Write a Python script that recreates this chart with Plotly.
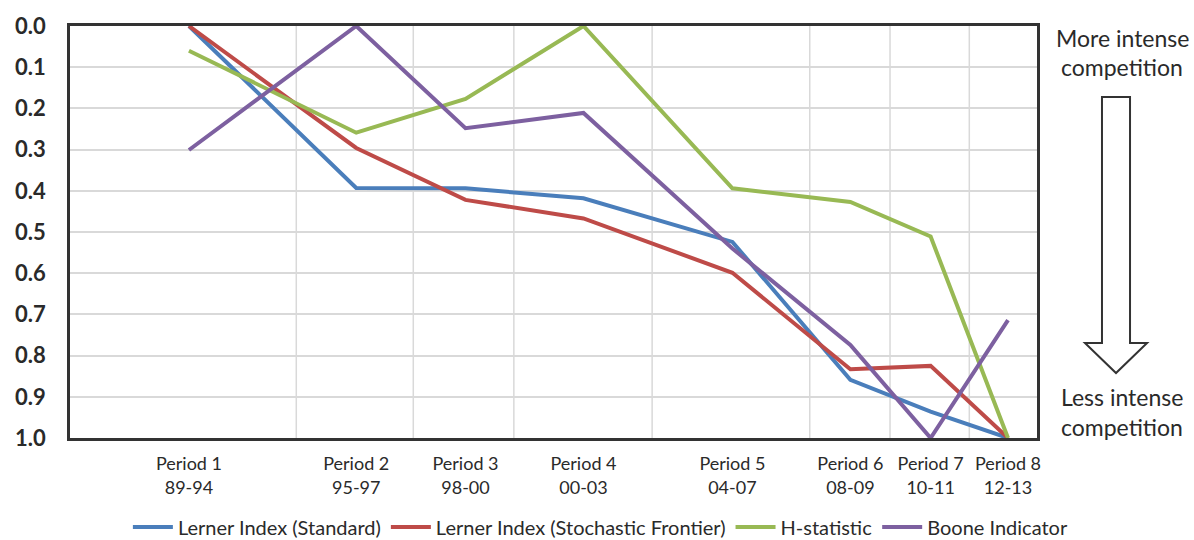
import plotly.graph_objects as go

# Period labels and their positions along the horizontal scale (0-100)
periods = ["Period 1", "Period 2", "Period 3", "Period 4",
           "Period 5", "Period 6", "Period 7", "Period 8"]
year_spans = ["89-94", "95-97", "98-00", "00-03", "04-07", "08-09", "10-11", "12-13"]
period_pos = [12.3, 29.6, 40.9, 53.1, 68.5, 80.7, 89.0, 97.0]

# Boundaries between periods (vertical gridlines)
boundary_pos = [23.4, 35.5, 45.9, 60.2, 76.5, 84.8, 93.0]

# Normalised competition measures (0 = more intense, 1 = less intense)
lerner_standard = [0.0, 0.393, 0.394, 0.418, 0.524, 0.859, 0.936, 1.0]
lerner_sfa = [0.0, 0.296, 0.422, 0.467, 0.599, 0.833, 0.825, 1.0]
h_statistic = [0.06, 0.259, 0.177, 0.0, 0.394, 0.427, 0.511, 1.0]
boone = [0.301, 0.0, 0.248, 0.211, 0.54, 0.774, 1.0, 0.714]

series = [
    ("Lerner Index (Standard)", lerner_standard, "#4a7ebb"),
    ("Lerner Index (Stochastic Frontier)", lerner_sfa, "#be4b48"),
    ("H-statistic", h_statistic, "#98b954"),
    ("Boone Indicator", boone, "#7d60a0"),
]

y_ticks = [i / 10 for i in range(11)]

FONT = "Lato, 'Open Sans', sans-serif"
TEXT_COLOR = "#2a2a2a"

fig = go.Figure()
for name, vals, color in series:
    fig.add_trace(go.Scatter(
        x=period_pos, y=vals, name=name, mode="lines",
        line=dict(color=color, width=4),
    ))

# Vertical gridlines at period boundaries
for b in boundary_pos:
    fig.add_shape(type="line", xref="x", yref="paper", x0=b, x1=b, y0=0, y1=1,
                  line=dict(color="#d9d9d9", width=1.5), layer="below")

# Direction arrow on the right (paper coordinates)
sl, sr, hl, hr, tipx = 1.0672, 1.0962, 1.0496, 1.1138, 1.0817
top, headtop, tipy = 0.8277, 0.2306, 0.1578
arrow_path = (f"M {sl},{top} L {sr},{top} L {sr},{headtop} L {hr},{headtop} "
              f"L {tipx},{tipy} L {hl},{headtop} L {sl},{headtop} Z")
fig.add_shape(type="path", xref="paper", yref="paper", path=arrow_path,
              line=dict(color="#333333", width=2), fillcolor="white")

side_text = [
    ("More intense", 0.971),
    ("competition", 0.900),
    ("Less intense", 0.0995),
    ("competition", 0.0267),
]
for txt, yp in side_text:
    fig.add_annotation(text=txt, xref="paper", yref="paper", x=1.088, y=yp,
                       showarrow=False, xanchor="center", yanchor="middle",
                       font=dict(family=FONT, size=23, color=TEXT_COLOR))

fig.update_layout(
    width=1194, height=540,
    margin=dict(l=70, r=157, t=26, b=102, autoexpand=False),
    paper_bgcolor="white", plot_bgcolor="white",
    font=dict(family=FONT, color=TEXT_COLOR),
    showlegend=True,
    legend=dict(orientation="h", x=0.549, xanchor="center", y=-0.216, yanchor="middle",
                font=dict(family=FONT, size=20, color=TEXT_COLOR),
                itemwidth=40, tracegroupgap=0),
    xaxis=dict(
        range=[0, 100], tickmode="array", tickvals=period_pos,
        ticktext=[f"{p}<br>{s}" for p, s in zip(periods, year_spans)],
        showgrid=False, zeroline=False, ticks="",
        showline=True, mirror=True, linecolor="#333333", linewidth=2.5,
        tickfont=dict(family=FONT, size=18, color=TEXT_COLOR),
        ticklabelstandoff=8,
    ),
    yaxis=dict(
        range=[1, 0], tickmode="array", tickvals=y_ticks,
        ticktext=[f"{v:.1f}" for v in y_ticks],
        showgrid=True, gridcolor="#d9d9d9", gridwidth=1.5, zeroline=False, ticks="",
        showline=True, mirror=True, linecolor="#333333", linewidth=2.5,
        tickfont=dict(family=FONT, size=22, color=TEXT_COLOR, weight="bold"),
        ticklabelstandoff=17,
    ),
)

fig.write_html("out.html")
